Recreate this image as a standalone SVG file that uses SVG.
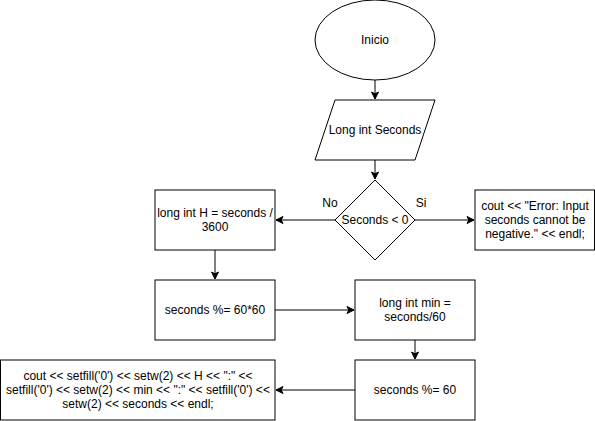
<svg xmlns="http://www.w3.org/2000/svg" width="595" height="421" viewBox="0 0 595 421">
<style>
.s{fill:#fff;stroke:#000;stroke-width:1}
.t{font-family:"Liberation Sans",Arial,sans-serif;font-size:12px;fill:#000;text-anchor:middle}
.c{fill:none;stroke:#000;stroke-width:1}
</style>
<defs>
<marker id="a" markerWidth="10" markerHeight="10" refX="8" refY="5" orient="auto" markerUnits="userSpaceOnUse">
<path d="M1,1.5 L8,5 L1,8.5 L2.8,5 Z" fill="#000" stroke="#000" stroke-width="1"/>
</marker>
</defs>
<rect width="595" height="421" fill="#fff"/>
<g id="connectors">
<path class="c" d="M375,80 V99" marker-end="url(#a)"/>
<path class="c" d="M375,160 V179" marker-end="url(#a)"/>
<path class="c" d="M335,220 H276" marker-end="url(#a)"/>
<path class="c" d="M415,220 H474" marker-end="url(#a)"/>
<path class="c" d="M215,250 V279" marker-end="url(#a)"/>
<path class="c" d="M275,310 H354" marker-end="url(#a)"/>
<path class="c" d="M415,340 V359" marker-end="url(#a)"/>
<path class="c" d="M355,390 H276" marker-end="url(#a)"/>
<text class="t" x="330" y="207">No</text>
<text class="t" x="421" y="207">Si</text>
</g>
<g id="inicio">
<ellipse class="s" cx="375" cy="40" rx="60" ry="40"/>
<text class="t" x="375" y="44">Inicio</text>
</g>
<g id="input">
<polygon class="s" points="335,100 435,100 415,160 315,160"/>
<text class="t" x="375" y="134">Long int Seconds</text>
</g>
<g id="decision">
<polygon class="s" points="375,180 415,220 375,260 335,220"/>
<text class="t" x="375" y="224">Seconds &lt; 0</text>
</g>
<g id="hours">
<rect class="s" x="155" y="190" width="120" height="60"/>
<text class="t" x="215" y="217">long int H = seconds /</text>
<text class="t" x="215" y="231">3600</text>
</g>
<g id="error">
<rect class="s" x="475" y="190" width="119.5" height="60"/>
<text class="t" x="535" y="210">cout &lt;&lt; "Error: Input</text>
<text class="t" x="535" y="224">seconds cannot be</text>
<text class="t" x="535" y="238">negative." &lt;&lt; endl;</text>
</g>
<g id="mod3600">
<rect class="s" x="155" y="280" width="120" height="60"/>
<text class="t" x="215" y="314">seconds %= 60*60</text>
</g>
<g id="minutes">
<rect class="s" x="355" y="280" width="120" height="60"/>
<text class="t" x="415" y="307">long int min =</text>
<text class="t" x="415" y="321">seconds/60</text>
</g>
<g id="mod60">
<rect class="s" x="355" y="360" width="120" height="60"/>
<text class="t" x="415" y="394">seconds %= 60</text>
</g>
<g id="output">
<rect class="s" x="0.5" y="360" width="274.5" height="60"/>
<text class="t" x="138" y="380">cout &lt;&lt; setfill('0') &lt;&lt; setw(2) &lt;&lt; H &lt;&lt; ":" &lt;&lt;</text>
<text class="t" x="138" y="394">setfill('0') &lt;&lt; setw(2) &lt;&lt; min &lt;&lt; ":" &lt;&lt; setfill('0') &lt;&lt;</text>
<text class="t" x="138" y="408">setw(2) &lt;&lt; seconds &lt;&lt; endl;</text>
</g>
</svg>
